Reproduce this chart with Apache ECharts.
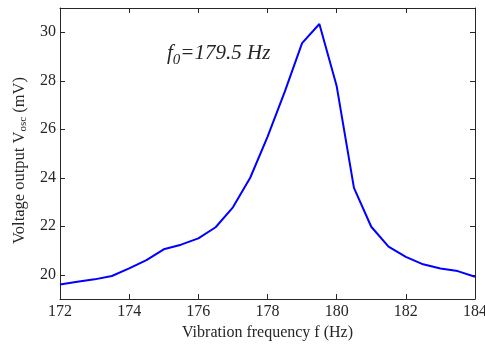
<!DOCTYPE html>
<html>
<head>
<meta charset="utf-8">
<script src="https://cdn.jsdelivr.net/npm/echarts@6/dist/echarts.min.js"></script>
<style>html,body{margin:0;padding:0;background:#fff}#c{width:485px;height:345px}</style>
</head>
<body>
<div id="c"></div>
<script>
var freqs = [172,172.5,173,173.5,174,174.5,175,175.5,176,176.5,177,177.5,178,178.5,179,179.5,180,180.5,181,181.5,182,182.5,183,183.5,184];
var voltage = [19.6,19.71,19.81,19.95,20.26,20.6,21.05,21.24,21.5,21.96,22.78,24.0,25.69,27.55,29.55,30.34,27.78,23.58,21.98,21.16,20.74,20.43,20.26,20.15,19.92];
var xTicks = [172,174,176,178,180,182,184];
var yTicks = [20,22,24,26,28,30];

var font = 'Liberation Serif';
var ink = '#262626';
var chart = echarts.init(document.getElementById('c'), null, {renderer:'canvas'});
var axisBase = {
  axisLine:{show:true,lineStyle:{color:ink,width:1}},
  axisTick:{show:true,inside:true,length:5,lineStyle:{color:ink}},
  splitLine:{show:false}
};
chart.setOption({
  animation:false,
  grid:{left:60,right:10,top:8,bottom:46,containLabel:false,outerBoundsMode:'none'},
  xAxis:[
    Object.assign({type:'value',min:172,max:184,interval:2,position:'bottom',
      axisLabel:{color:ink,fontFamily:font,fontSize:16,margin:5},
      name:'Vibration frequency f (Hz)',nameLocation:'middle',nameGap:24,
      nameTextStyle:{color:ink,fontFamily:font,fontSize:16}},axisBase),
    Object.assign({type:'value',min:172,max:184,interval:2,position:'top',axisLabel:{show:false}},axisBase)
  ],
  yAxis:[
    Object.assign({type:'value',min:19,max:31,
      axisLabel:{color:ink,fontFamily:font,fontSize:16,margin:4,
        customValues:yTicks},
      axisTick:{show:true,inside:true,length:5,lineStyle:{color:ink},customValues:yTicks},
      name:'Voltage output V{sub|osc} (mV)',nameLocation:'middle',nameGap:27,nameRotate:90,
      nameTextStyle:{color:ink,fontFamily:font,fontSize:16.5,padding:[0,14,0,0],
        rich:{sub:{fontFamily:font,fontSize:11,color:ink,verticalAlign:'bottom',padding:[7,0,0,0]}}}},
      {axisLine:axisBase.axisLine,splitLine:{show:false}}),
    {type:'value',min:19,max:31,position:'right',
      axisLine:{show:true,lineStyle:{color:ink,width:1}},
      axisTick:{show:true,inside:true,length:5,lineStyle:{color:ink},customValues:yTicks},
      axisLabel:{show:false},splitLine:{show:false}}
  ],
  graphic:[{
    type:'text',left:167,top:43,
    style:{
      text:'{i|f}{s|0}{i|=179.5 Hz}',
      rich:{
        i:{fontFamily:font,fontStyle:'italic',fontSize:21,fill:ink},
        s:{fontFamily:font,fontStyle:'italic',fontSize:15,fill:ink,padding:[13,0,0,0]}
      }
    }
  }],
  series:[{
    type:'line',
    data:freqs.map(function(f,i){return [f,voltage[i]];}),
    showSymbol:false,
    lineStyle:{color:'#0000ff',width:2},
    itemStyle:{color:'#0000ff'}
  }]
});
</script>
</body>
</html>
